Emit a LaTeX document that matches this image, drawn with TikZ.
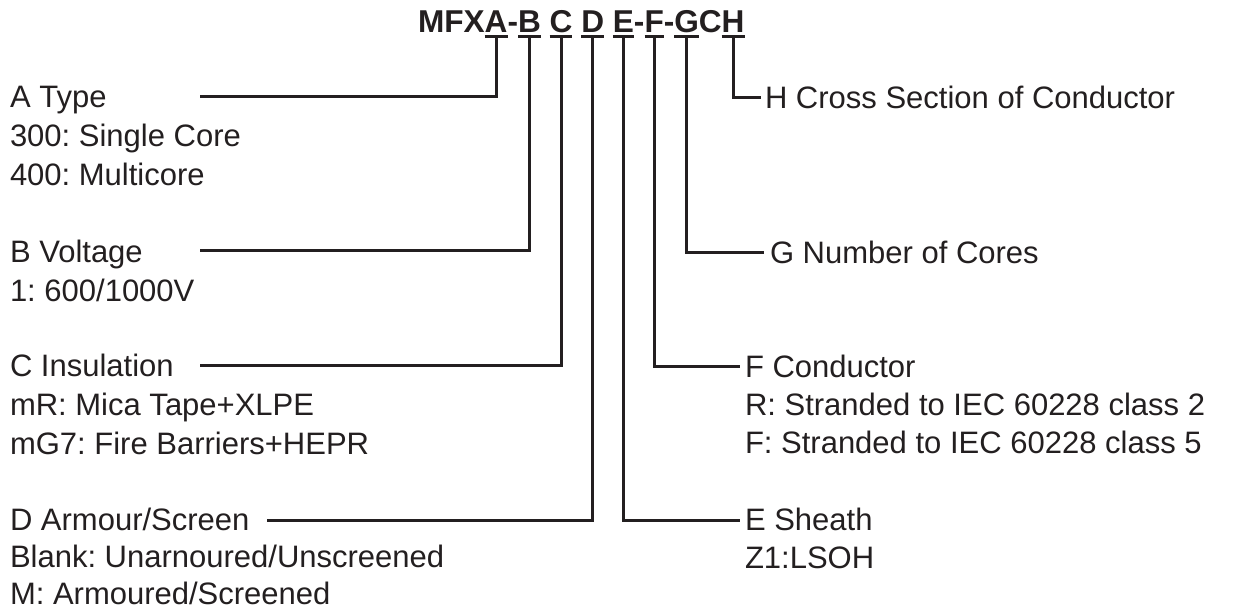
\documentclass[tikz,border=0pt]{standalone}
\usepackage{fontspec}
\setmainfont{Liberation Sans}
\definecolor{ink}{HTML}{231F20}
\frenchspacing
\begin{document}
\begin{tikzpicture}[x=1pt,y=-1pt,
  tt/.style={inner sep=0pt, outer sep=0pt, anchor=base west, text=ink, font=\fontsize{31.6}{36}\selectfont\bfseries},
  lab/.style={inner sep=0pt, outer sep=0pt, anchor=base west, text=ink, font=\fontsize{31}{39}\selectfont},
  ln/.style={draw=ink, line width=3pt, line join=miter}]
\useasboundingbox (0,0) rectangle (1260,613);
% title
\node[tt] (t0) at (418,32) {MFX};
\node[tt] (tA) at (t0.base east) {A};
\node[tt] (d1) at (tA.base east) {-};
\node[tt] (tB) at (d1.base east) {B};
\node[tt] (tC) at ([xshift=8.8pt]tB.base east) {C};
\node[tt] (tD) at ([xshift=8.8pt]tC.base east) {D};
\node[tt] (tE) at ([xshift=8.8pt]tD.base east) {E};
\node[tt] (d2) at (tE.base east) {-};
\node[tt] (tF) at (d2.base east) {F};
\node[tt] (d3) at (tF.base east) {-};
\node[tt] (tG) at (d3.base east) {G};
\node[tt] (c1) at (tG.base east) {C};
\node[tt] (tH) at (c1.base east) {H};
\foreach \n in {A,B,C,D,E,F,G,H}{
  \draw[ln] ([yshift=-4pt]t\n.base west) -- ([yshift=-4pt]t\n.base east);
  \coordinate (u\n) at ([yshift=-4pt]t\n.base);
}
% left labels
\node[lab] (lA) at (10,107) {A Type};
\node[lab] (lA1) at (10,146) {300: Single Core};
\node[lab] (lA2) at (10,185) {400: Multicore};
\node[lab] (lB) at (10,262) {B Voltage};
\node[lab] (lB1) at (10,301) {1: 600/1000V};
\node[lab] (lC) at (10,376) {C Insulation};
\node[lab] (lC1) at (10,415) {mR: Mica Tape+XLPE};
\node[lab] (lC2) at (10,454) {mG7: Fire Barriers+HEPR};
\node[lab] (lD) at (10,530) {D Armour/Screen};
\node[lab] (lD1) at (10,567) {Blank: Unarnoured/Unscreened};
\node[lab] (lD2) at (10,604) {M: Armoured/Screened};
% right labels
\node[lab] (rH) at (765,108) {H Cross Section of Conductor};
\node[lab] (rG) at (770,263) {G Number of Cores};
\node[lab] (rF) at (745,377) {F Conductor};
\node[lab] (rF1) at (745,415) {R: Stranded to IEC 60228 class 2};
\node[lab] (rF2) at (745,453) {F: Stranded to IEC 60228 class 5};
\node[lab] (rE) at (745,530) {E Sheath};
\node[lab] (rE1) at (745,568) {Z1:LSOH};
% connector ends
\coordinate (pA) at (200,96);
\coordinate (pB) at (200,250);
\coordinate (pC) at (200,365);
\coordinate (pD) at (267,520);
\coordinate (pH) at (761,97);
\coordinate (pG) at (764,252);
\coordinate (pF) at (740,366);
\coordinate (pE) at (740,520);
\draw[ln] (pA) -| (uA);
\draw[ln] (pB) -| (uB);
\draw[ln] (pC) -| (uC);
\draw[ln] (pD) -| (uD);
\draw[ln] (uH) |- (pH);
\draw[ln] (uG) |- (pG);
\draw[ln] (uF) |- (pF);
\draw[ln] (uE) |- (pE);
\end{tikzpicture}
\end{document}
